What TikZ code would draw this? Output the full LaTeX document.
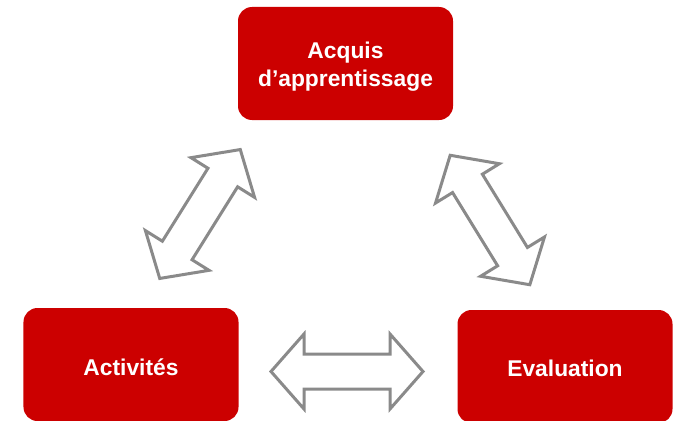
\documentclass[tikz,border=0pt]{standalone}
\usepackage{fontspec}
\setmainfont{Liberation Sans}
\definecolor{boxred}{RGB}{204,0,0}
\definecolor{arrowgray}{RGB}{138,138,138}
\tikzset{
  redbox/.style={draw=none, fill=boxred, rounded corners=14bp,
    minimum width=215bp, minimum height=113bp, inner sep=0pt},
  boxtext/.style={text=white, align=center, inner sep=0pt,
    font=\fontsize{22.8bp}{28bp}\selectfont\bfseries},
  pics/dblarrow/.style={code={
    \draw[draw=arrowgray, fill=white, line width=3bp, line join=miter]
      (-76,0) -- (-43,37.5) -- (-43,17.5) -- (43,17.5) -- (43,37.5) -- (76,0)
      -- (43,-37.5) -- (43,-17.5) -- (-43,-17.5) -- (-43,-37.5) -- cycle;
  }}
}
\begin{document}
\begin{tikzpicture}[x=1bp,y=1bp]
\useasboundingbox (0,0) rectangle (679,420);
\node[redbox] (acquis) at (345.5,356.5) {};
\node[redbox] (activites) at (131,55.5) {};
\node[redbox] (evaluation) at (565,53.5) {};
\node[boxtext] (acquistext) at ([yshift=-3bp]acquis.center) {Acquis\\d’apprentissage};
\node[boxtext] (activitestext) at ([yshift=-2.5bp]activites.center) {Activités};
\node[boxtext] (evaluationtext) at ([yshift=-2bp]evaluation.center) {Evaluation};
\pic[rotate=58] (a1) at (200,206) {dblarrow};
\pic[rotate=-58.4] (a2) at (490,200) {dblarrow};
\pic (a3) at (347,48.5) {dblarrow};
\end{tikzpicture}
\end{document}
